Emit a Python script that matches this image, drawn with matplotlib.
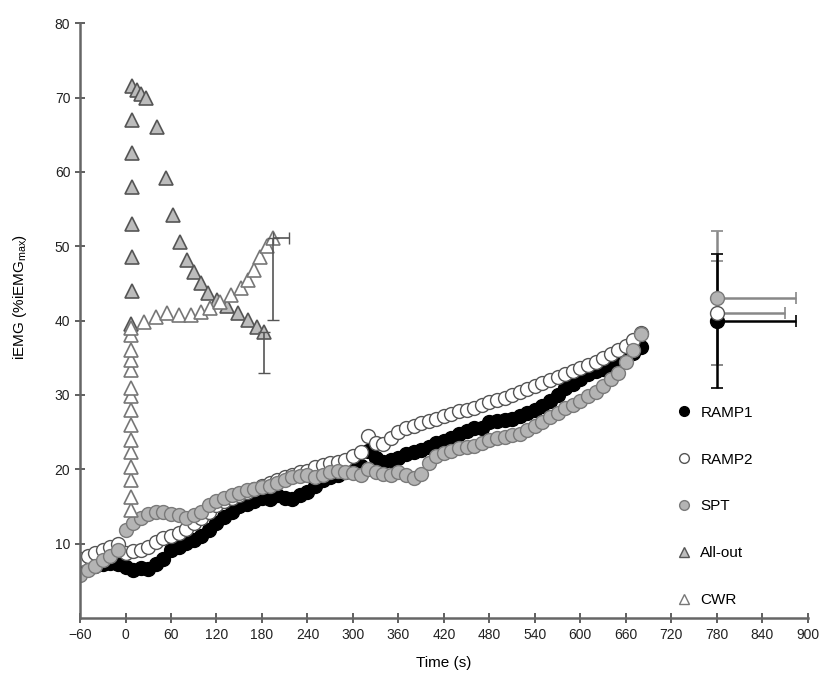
import matplotlib
matplotlib.use("Agg")
import matplotlib.pyplot as plt
from matplotlib.lines import Line2D

plt.rcParams["font.family"] = ["Liberation Sans", "DejaVu Sans"]

# ramp tests, sampled every 10 s from -60 s to 680 s
t_ramp = list(range(-60, 690, 10))

ramp1 = [7.3, 7.2, 7.0, 7.2, 7.4, 7.3, 6.8, 6.5, 6.7, 6.6,
         7.2, 8.0, 9.2, 9.6, 10.1, 10.5, 11.0, 11.8, 12.8, 13.6,
         14.3, 15.0, 15.3, 15.8, 16.2, 16.0, 16.5, 16.2, 16.0, 16.5,
         17.0, 17.8, 18.5, 19.0, 19.2, 19.6, 19.8, 20.5, 22.5, 21.5,
         21.0, 21.2, 21.5, 22.0, 22.3, 22.6, 23.0, 23.5, 23.8, 24.2,
         24.8, 25.2, 25.6, 25.5, 26.3, 26.5, 26.6, 26.8, 27.2, 27.6,
         28.0, 28.5, 29.2, 30.0, 31.0, 31.5, 32.2, 32.8, 33.2, 33.5,
         33.8, 34.2, 35.0, 35.6, 36.4]

ramp2 = [8.0, 8.4, 8.8, 9.2, 9.6, 10.0, 8.8, 9.0, 9.2, 9.6,
         10.2, 10.8, 11.0, 11.4, 12.0, 12.8, 13.5, 14.3, 15.2, 15.8,
         16.2, 16.5, 17.0, 17.4, 17.8, 18.2, 18.6, 19.0, 19.3, 19.6,
         19.8, 20.3, 20.6, 20.8, 21.0, 21.3, 21.8, 22.3, 24.5, 23.6,
         23.4, 24.2, 25.0, 25.5, 25.8, 26.2, 26.5, 26.8, 27.2, 27.5,
         27.8, 28.0, 28.3, 28.6, 29.0, 29.3, 29.6, 30.0, 30.4, 30.8,
         31.2, 31.6, 32.0, 32.4, 32.8, 33.2, 33.6, 34.0, 34.5, 35.0,
         35.5, 36.0, 36.6, 37.4, 38.3]

spt = [5.8, 6.4, 7.0, 7.8, 8.4, 9.2, 11.8, 12.8, 13.5, 14.0,
       14.2, 14.2, 14.0, 13.8, 13.5, 13.8, 14.3, 15.2, 15.8, 16.2,
       16.5, 16.8, 17.2, 17.4, 17.6, 17.8, 18.2, 18.6, 18.9, 19.1,
       19.2, 19.0, 19.3, 19.6, 19.8, 19.7, 19.5, 19.3, 20.0, 19.6,
       19.4, 19.3, 19.6, 19.2, 18.8, 19.4, 20.8, 21.8, 22.2, 22.5,
       22.8, 23.0, 23.2, 23.6, 24.0, 24.2, 24.4, 24.6, 24.8, 25.3,
       25.8, 26.4, 27.0, 27.6, 28.2, 28.6, 29.2, 29.8, 30.4, 31.2,
       32.2, 33.0, 34.5, 36.0, 38.2]

# all-out and constant work rate trials
t_allout = [7, 9, 9, 9, 9, 9, 9, 9, 15, 21, 27, 42, 53, 62, 72, 81,
            90, 99, 109, 121, 134, 148, 161, 174, 183]
allout = [39.5, 44.0, 48.5, 53.0, 58.0, 62.5, 67.0, 71.5, 71.0, 70.5, 70.0,
          66.0, 59.2, 54.2, 50.6, 48.2, 46.6, 45.0, 43.7, 42.8, 41.9, 41.0,
          40.1, 39.2, 38.5]

t_cwr = [7, 7, 7, 7, 7, 7, 7, 7, 7, 7, 7, 7, 7, 7, 7,
         24, 40, 55, 70, 86, 99, 112, 125, 139, 152, 161, 169, 178, 187, 195]
cwr = [14.5, 16.3, 18.6, 20.3, 22.3, 24.0, 26.0, 28.0, 29.8, 31.0, 33.4,
       34.7, 36.1, 38.0, 39.0,
       39.8, 40.5, 41.0, 40.8, 40.8, 41.2, 41.7, 42.5, 43.5, 44.4, 45.5,
       46.8, 48.6, 50.0, 51.1]

# end-of-test means with SD
end_t = 780
end_vals = {"RAMP1": 40.0, "RAMP2": 41.0, "SPT": 43.0}
end_ysd = {"RAMP1": 9.0, "RAMP2": 7.0, "SPT": 9.0}
end_xsd = {"RAMP1": 105, "RAMP2": 90, "SPT": 105}
allout_sd_low = 5.5
cwr_sd_low = 11.0
cwr_sd_t = 20

styles = {
    "RAMP1": dict(marker="o", mfc="black", mec="black"),
    "RAMP2": dict(marker="o", mfc="white", mec="#555555"),
    "SPT": dict(marker="o", mfc="#b4b4b4", mec="#7a7a7a"),
    "All-out": dict(marker="^", mfc="#bcbcbc", mec="#555555"),
    "CWR": dict(marker="^", mfc="white", mec="#777777"),
}

fig = plt.figure(figsize=(8.2, 6.84), dpi=100)
ax = fig.add_axes([0.0976, 0.0965, 0.8875, 0.8695])

ms = 10
ax.plot(t_ramp, ramp1, ls="none", ms=ms, mew=1, **styles["RAMP1"])
ax.plot(t_ramp, ramp2, ls="none", ms=ms, mew=1, **styles["RAMP2"])
ax.plot(t_ramp, spt, ls="none", ms=ms, mew=1, **styles["SPT"])

ax.plot(t_allout, allout, ls="none", ms=ms, mew=1.2, **styles["All-out"])
ax.plot(t_cwr, cwr, ls="none", ms=ms, mew=1.2, **styles["CWR"])

# error bars on last points of the short trials
ax.errorbar(t_allout[-1], allout[-1], yerr=[[allout_sd_low], [0]], fmt="none",
            ecolor="#555555", elinewidth=1.2, capsize=4)
ax.errorbar(t_cwr[-1], cwr[-1], yerr=[[cwr_sd_low], [0]], xerr=[[0], [cwr_sd_t]],
            fmt="none", ecolor="#555555", elinewidth=1.2, capsize=4)

# end points
for name, col in [("SPT", "#888888"), ("RAMP2", "#888888"), ("RAMP1", "black")]:
    v = end_vals[name]
    ax.errorbar(end_t, v, yerr=end_ysd[name], xerr=[[0], [end_xsd[name]]],
                fmt="none", ecolor=col, elinewidth=1.8, capsize=4, capthick=1.2)
for name in ["RAMP1", "RAMP2", "SPT"]:
    ax.plot(end_t, end_vals[name], ls="none", ms=ms, mew=1, **styles[name])

ax.set_xlim(-60, 900)
ax.set_ylim(0, 80)
ax.set_xticks(range(-60, 901, 60))
ax.set_yticks(range(10, 81, 10))
ax.tick_params(labelsize=10, direction="inout", length=7, width=1.2,
               colors="#444444", labelcolor="#222222")
for s in ["top", "right"]:
    ax.spines[s].set_visible(False)
for s in ["left", "bottom"]:
    ax.spines[s].set_color("#666666")
    ax.spines[s].set_linewidth(1.8)

ax.set_xlabel("Time (s)", fontsize=11, labelpad=10)
ax.set_ylabel("iEMG (%iEMG$_{\\mathregular{max}}$)", fontsize=11)
ax.yaxis.set_label_coords(-0.07, 0.54)

handles = [Line2D([], [], ls="none", ms=7, mew=1, **styles[n])
           for n in ["RAMP1", "RAMP2", "SPT", "All-out", "CWR"]]
ax.legend(handles, ["RAMP1", "RAMP2", "SPT", "All-out", "CWR"], frameon=False,
          loc="upper left", bbox_to_anchor=(0.8, 0.38), fontsize=11,
          labelspacing=2.15, handlelength=1.0, handletextpad=0.6)

fig.savefig("out.png", dpi=100)
